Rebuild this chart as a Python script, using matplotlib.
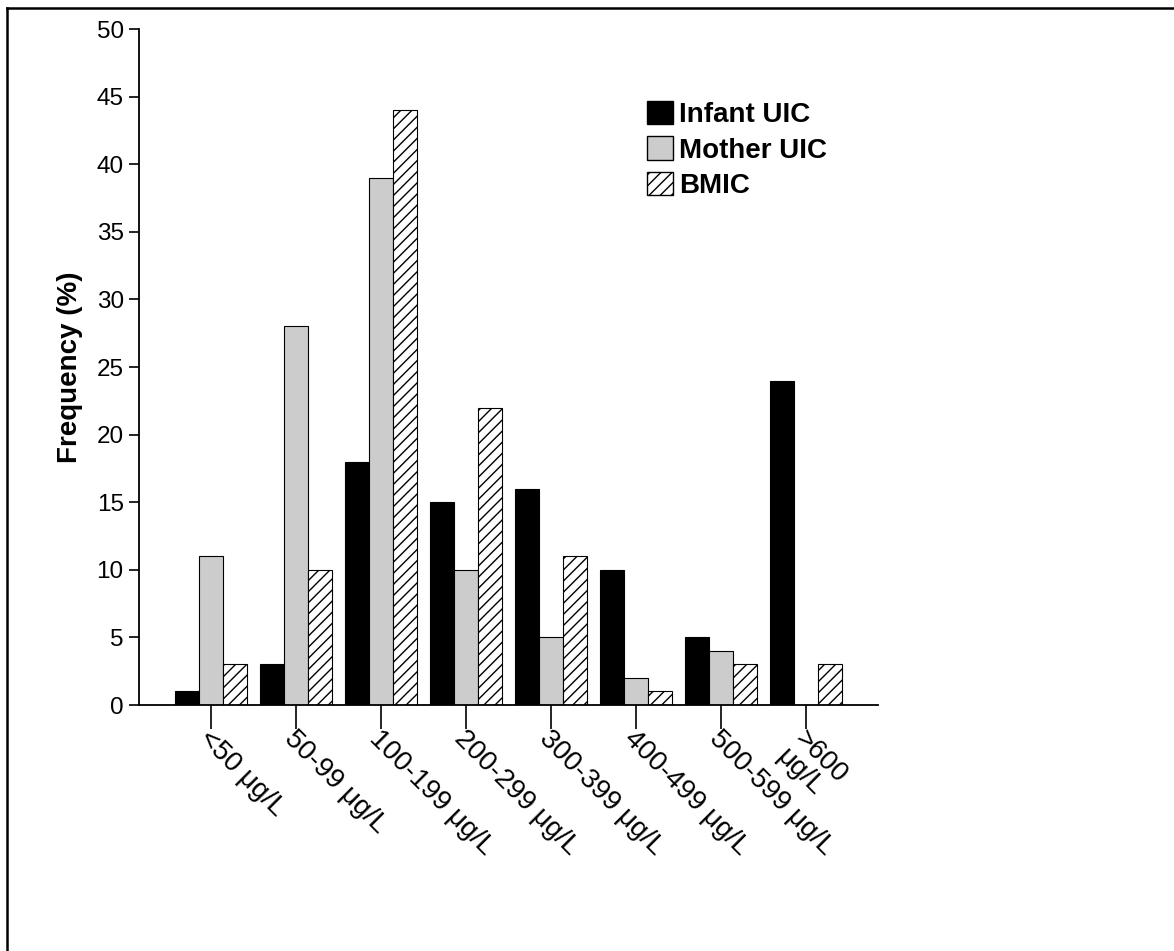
import matplotlib
matplotlib.use("Agg")
import matplotlib.pyplot as plt
import numpy as np
from matplotlib.lines import Line2D
from matplotlib.patches import Patch

plt.rcParams['font.family'] = ['Liberation Sans', 'DejaVu Sans']
plt.rcParams['hatch.linewidth'] = 1.0

categories = ["<50 μg/L", "50-99 μg/L", "100-199 μg/L", "200-299 μg/L",
              "300-399 μg/L", "400-499 μg/L", "500-599 μg/L", ">600\nμg/L"]
infant_uic = [1, 3, 18, 15, 16, 10, 5, 24]
mother_uic = [11, 28, 39, 10, 5, 2, 4, 0]
bmic = [3, 10, 44, 22, 11, 1, 3, 3]
series_names = ["Infant UIC", "Mother UIC", "BMIC"]
yticks = [0, 5, 10, 15, 20, 25, 30, 35, 40, 45, 50]

W, H = 1174, 951
fig = plt.figure(figsize=(W / 100, H / 100), dpi=100)
ax = fig.add_axes([139 / W, 1 - 705 / H, (878 - 139) / W, (705 - 29) / H])

x = np.arange(len(categories))
bw = 0.28
ax.bar(x - bw, infant_uic, bw, color='black', edgecolor='black', linewidth=0.8)
ax.bar(x, mother_uic, bw, color='#cccccc', edgecolor='black', linewidth=0.8)
ax.bar(x + bw, bmic, bw, color='white', edgecolor='black', linewidth=0.8, hatch='///')

ax.set_xlim(-0.847, len(categories) - 1 + 0.847)
ax.set_ylim(0, 50)
ax.set_yticks(yticks)
ax.set_yticklabels([str(t) for t in yticks], fontsize=17.5)
ax.set_xticks(x)
ax.set_xticklabels([])
ax.tick_params(axis='y', direction='out', length=7, width=1.2, pad=4)
ax.tick_params(axis='x', direction='out', length=17, width=1.2)
for s in ['top', 'right']:
    ax.spines[s].set_visible(False)
for s in ['left', 'bottom']:
    ax.spines[s].set_linewidth(1.3)

# rotated category labels anchored at tick ends
for xi, lab in zip(x, categories):
    ax.annotate(lab, xy=(xi, 0), xycoords=('data', 'axes fraction'),
                xytext=(1, -15), textcoords='offset points',
                rotation=-45, rotation_mode='anchor', ha='left', va='top',
                fontsize=20, linespacing=0.95)

ax.set_ylabel("Frequency (%)", fontsize=20, fontweight='bold', labelpad=10)

handles = [Patch(facecolor='black', edgecolor='black'),
           Patch(facecolor='#cccccc', edgecolor='black'),
           Patch(facecolor='white', edgecolor='black', hatch='///')]
leg = ax.legend(handles, series_names, loc='upper left',
                bbox_to_anchor=(647 / W, 1 - 101 / H), bbox_transform=fig.transFigure,
                frameon=False, prop={'weight': 'bold', 'size': 20},
                handlelength=0.95, handleheight=0.9, handletextpad=0.2,
                labelspacing=0.3, borderaxespad=0, borderpad=0)

# partial frame around figure (left and top edges)
fig.add_artist(Line2D([6.5 / W, 6.5 / W], [0, 1 - 7.5 / H], transform=fig.transFigure,
                      color='black', linewidth=1.8))
fig.add_artist(Line2D([6.5 / W, 1], [1 - 7.5 / H, 1 - 7.5 / H], transform=fig.transFigure,
                      color='black', linewidth=1.8))

fig.savefig("out.png", dpi=100, facecolor='white')
